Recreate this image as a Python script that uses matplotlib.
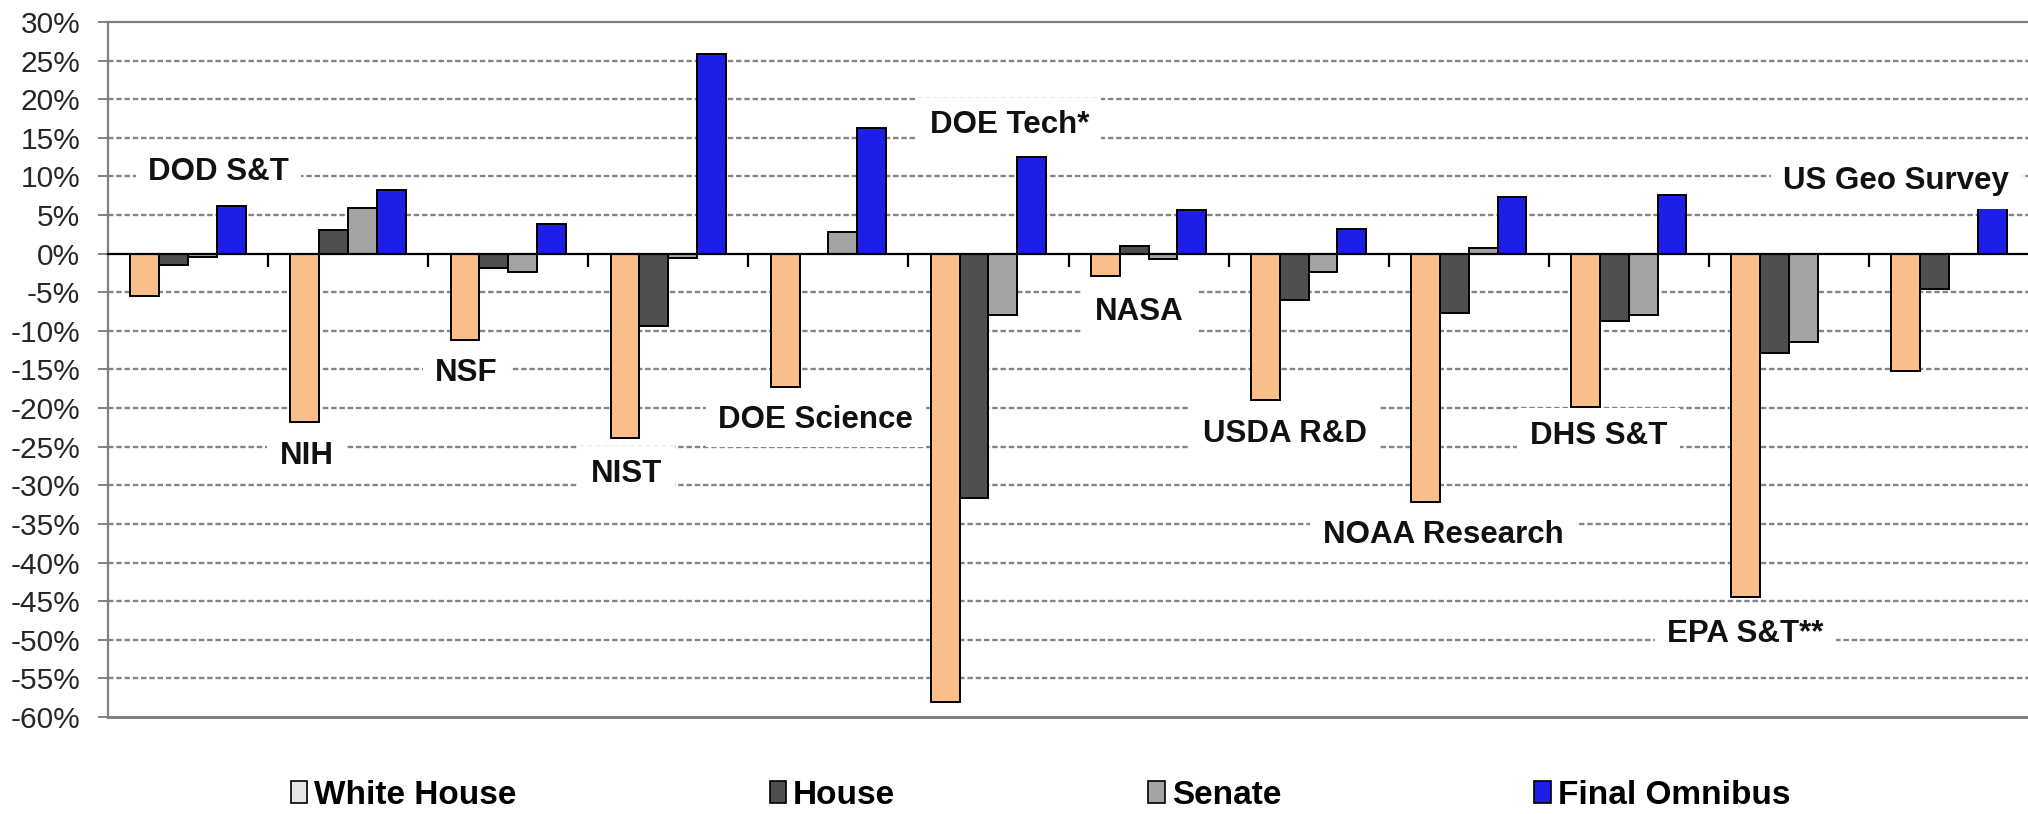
import matplotlib
matplotlib.use("Agg")
import matplotlib.pyplot as plt
from matplotlib.patches import Patch
import numpy as np

# ---- data (percent change) ----
categories = ["DOD S&T", "NIH", "NSF", "NIST", "DOE Science", "DOE Tech*", "NASA",
              "USDA R&D", "NOAA Research", "DHS S&T", "EPA S&T**", "US Geo Survey"]
white_house = [-5.5, -21.8, -11.2, -23.9, -17.3, -58.0, -2.9, -19.0, -32.2, -19.8, -44.5, -15.2]
house       = [-1.5,   3.1,  -1.8,  -9.4,   0.0, -31.6,  1.0,  -6.0,  -7.7,  -8.7, -12.8,  -4.6]
senate      = [-0.4,   5.9,  -2.4,  -0.6,   2.85, -7.9, -0.7,  -2.4,   0.7,  -7.9, -11.5,   0.0]
final       = [ 6.2,   8.3,   3.8,  25.9,  16.3,  12.5,  5.6,   3.15,  7.3,   7.6,   0.0,   5.9]
series_names = ["White House", "House", "Senate", "Final Omnibus"]
y_ticks = list(range(-60, 31, 5))

# ---- layout / style ----
bar_colors = ["#F9BE8A", "#4F4F4F", "#A3A3A3", "#1E1EE6"]
legend_colors = ["#E6E6E6", "#4F4F4F", "#A3A3A3", "#1E1EE6"]
label_x = [0.19, 0.74, 1.74, 2.74, 3.92, 5.13, 5.94, 6.85, 7.84, 8.81, 9.73, 10.67]
label_y = [10.6, -26.2, -15.4, -28.5, -21.5, 16.6, -7.5, -23.3, -36.4, -23.6, -49.2, 9.4]

W, H, DPI = 2028, 814, 100
fig = plt.figure(figsize=(W / DPI, H / DPI), dpi=DPI)
ax = fig.add_axes([108 / W, 1 - 717 / H, (2029 - 108) / W, (717 - 22) / H])

font = "Liberation Sans"
x = np.arange(len(categories))
bw = 0.18
all_series = [white_house, house, senate, final]
for i, (vals, col) in enumerate(zip(all_series, bar_colors)):
    ax.bar(x + (i - 1.5) * bw, vals, width=bw, color=col, edgecolor="black",
           linewidth=1.4, zorder=3)

ax.set_xlim(-0.5, len(categories) - 0.5)
ax.set_ylim(-60, 30)

# gridlines
for v in y_ticks:
    if v in (-60, 0, 30):
        continue
    ax.axhline(v, color="#858585", linewidth=1.7, linestyle=(0, (2.3, 1.2)), zorder=1)

# spines
for s in ("left", "top", "right"):
    ax.spines[s].set_color("#808080")
    ax.spines[s].set_linewidth(1.6)
ax.spines["right"].set_visible(False)
ax.spines["bottom"].set_position(("data", 0))
ax.spines["bottom"].set_color("black")
ax.spines["bottom"].set_linewidth(1.6)
ax.spines["bottom"].set_zorder(4)
ax.axhline(-60, color="#808080", linewidth=2.2, zorder=2, clip_on=False)

ax.set_xticks(x[:-1] + 0.5)
ax.set_xticklabels([])
ax.tick_params(axis="x", direction="out", length=9, width=1.6, color="black")

ax.set_yticks(y_ticks)
ax.set_yticklabels([f"{v}%" for v in y_ticks], fontsize=21.5, family=font, color="#262626")
ax.tick_params(axis="y", direction="out", length=7, width=1.4, color="#808080", pad=13)

# category labels
for cx, cy, name in zip(label_x, label_y, categories):
    ax.text(cx, cy, name, ha="center", va="center", fontsize=22.5, fontweight="bold",
            family=font, color="#111111", zorder=5,
            bbox=dict(facecolor="white", edgecolor="none", pad=9))

handles = [Patch(facecolor=c, edgecolor="black", linewidth=1.2) for c in legend_colors]
leg = fig.legend(handles, series_names, loc="center", bbox_to_anchor=(0.513, 0.023),
                 ncol=4, frameon=False, columnspacing=7.6, handlelength=0.5,
                 handleheight=0.6, handletextpad=0.2, borderpad=0,
                 prop=dict(family=font, size=24, weight="bold"))

fig.savefig("out.png", dpi=DPI)
